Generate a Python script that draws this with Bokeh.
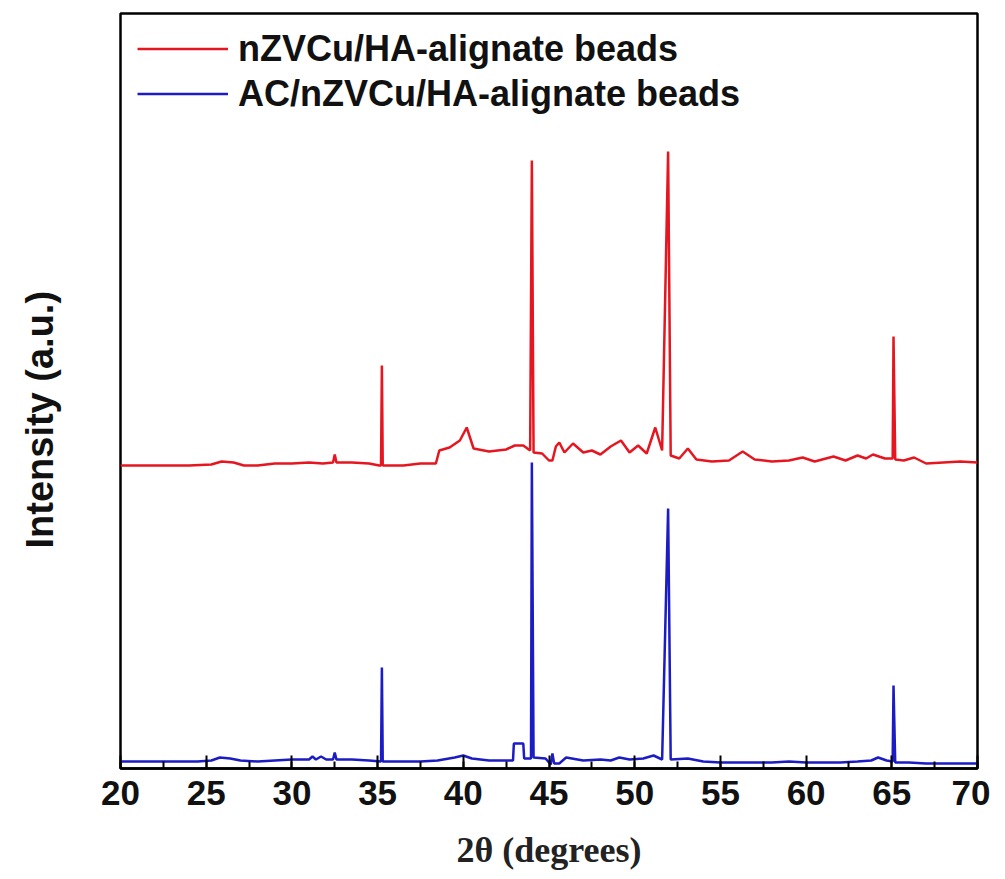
from bokeh.plotting import figure
from bokeh.models import Range1d, SingleIntervalTicker, FixedTicker, Title, Legend
from bokeh.embed import file_html
from bokeh.resources import INLINE

# 2-theta positions (degrees) and intensities (a.u.)
red_x = [20.0, 22.0, 24.0, 25.3, 25.9, 26.6, 27.2, 28.0, 29.0, 30.0, 31.0, 31.8, 32.4, 32.5, 32.6,
         33.5, 34.5, 35.1, 35.2, 35.25, 35.3, 36.5, 37.5, 38.4, 38.6, 39.2, 39.8, 40.2, 40.6, 41.5,
         42.5, 43.0, 43.5, 43.9, 44.0, 44.1, 44.6, 45.0, 45.2, 45.4, 45.6, 45.9, 46.4, 47.0, 47.5,
         48.0, 48.6, 49.2, 49.7, 50.2, 50.7, 51.2, 51.6, 51.95, 52.1, 52.6, 53.1, 53.6, 54.5, 55.5,
         56.3, 57.0, 58.0, 59.0, 59.8, 60.5, 61.6, 62.3, 63.0, 63.5, 63.9, 64.6, 65.05, 65.1, 65.2,
         65.7, 66.3, 67.0, 68.0, 69.0, 70.0]
red_y = [303, 303, 303, 304, 307, 306, 303, 303, 305, 305, 306, 305, 306, 314, 306,
         306, 305, 303, 303, 403, 303, 303, 305, 305, 318, 321, 328, 341, 320, 317,
         319, 323, 323, 318, 608, 316, 315, 308, 308, 322, 326, 316, 325, 316, 318,
         314, 322, 328, 316, 323, 315, 341, 318, 617, 313, 310, 320, 309, 307, 308,
         317, 309, 307, 308, 311, 307, 312, 308, 313, 310, 314, 310, 310, 432, 309,
         308, 311, 305, 306, 307, 306]

blue_x = [20.0, 21.5, 22.5, 23.5, 24.5, 25.3, 25.8, 26.4, 27.0, 28.0, 29.0, 30.0, 31.0, 31.2, 31.4,
          31.7, 32.0, 32.4, 32.5, 32.6, 33.5, 34.5, 35.2, 35.25, 35.3, 36.5, 37.5, 38.5, 39.5, 40.0,
          40.5, 41.5, 42.5, 42.9, 42.95, 43.5, 43.55, 43.95, 44.0, 44.1, 44.8, 45.1, 45.2, 45.3, 45.6,
          46.0, 47.0, 48.0, 48.6, 49.1, 49.7, 50.5, 51.1, 51.6, 51.95, 52.1, 53.1, 54.0, 55.0, 57.0,
          58.0, 59.0, 60.0, 61.0, 62.0, 63.0, 63.8, 64.2, 64.7, 65.05, 65.1, 65.2, 66.0, 67.0, 68.0,
          69.0, 70.0]
blue_y = [7, 7, 7, 7, 7, 8, 11, 10, 8, 7, 8, 9, 9, 12, 9,
          12, 9, 9, 16, 9, 9, 8, 7, 101, 7, 7, 7, 8, 11, 13,
          10, 8, 8, 8, 25, 25, 10, 10, 306, 11, 10, 4, 15, 5, 5,
          11, 8, 9, 8, 11, 9, 10, 13, 9, 260, 9, 10, 7, 6, 6,
          6, 7, 6, 6, 6, 7, 8, 11, 8, 7, 83, 6, 6, 5, 5,
          5, 5]

series_names = ["nZVCu/HA-alignate beads", "AC/nZVCu/HA-alignate beads"]

RED = "#e5161f"
BLUE = "#1c1cc4"

p = figure(width=990, height=879, output_backend="svg", toolbar_location=None,
           x_range=Range1d(20, 70), y_range=Range1d(0, 755))
p.min_border_left = 120
p.min_border_right = 13
p.min_border_top = 13
p.min_border_bottom = 111

p.outline_line_color = "black"
p.outline_line_width = 2.5
p.xgrid.visible = False
p.ygrid.visible = False

# left axis kept only as an empty spacer between the frame and the y title
ya = p.yaxis[0]
ya.ticker = FixedTicker(ticks=[])
ya.axis_line_alpha = 0
ya.major_tick_in = 0
ya.major_tick_out = 0
ya.minor_tick_in = 0
ya.minor_tick_out = 0
ya.axis_label = " "
ya.axis_label_text_font_size = "1px"
ya.axis_label_standoff = 56

r1 = p.line(red_x, red_y, line_color=RED, line_width=2.5)
r2 = p.line(blue_x, blue_y, line_color=BLUE, line_width=2.5)

xa = p.xaxis[0]
xa.ticker = SingleIntervalTicker(interval=5, num_minor_ticks=2)
xa.major_tick_in = 13
xa.major_tick_out = 0
xa.minor_tick_in = 7
xa.minor_tick_out = 0
xa.major_tick_line_width = 2
xa.minor_tick_line_width = 2
xa.axis_line_width = 2.5
xa.axis_line_color = "black"
xa.major_label_text_font = "Liberation Sans"
xa.major_label_text_font_style = "bold"
xa.major_label_text_font_size = "35px"
xa.major_label_text_color = "#111111"
xa.major_label_standoff = 12
xa.axis_label = "2\u03b8 (degrees)"
xa.axis_label_text_font = "Liberation Serif"
xa.axis_label_text_font_style = "bold"
xa.axis_label_text_font_size = "36px"
xa.axis_label_text_color = "#222222"
xa.axis_label_standoff = 22

ytitle = Title(text="Intensity (a.u.)", align="left", offset=220, standoff=0,
               text_font="Liberation Sans", text_font_style="bold",
               text_font_size="38px", text_color="#111111")
p.add_layout(ytitle, "left")

legend = Legend(items=[(series_names[0], [r1]), (series_names[1], [r2])],
                location=(17, 652))
legend.border_line_alpha = 0
legend.background_fill_alpha = 0
legend.padding = 0
legend.margin = 0
legend.spacing = 0
legend.glyph_width = 91
legend.glyph_height = 45
legend.label_height = 45
legend.label_standoff = 10
legend.label_text_font = "Liberation Sans"
legend.label_text_font_style = "bold"
legend.label_text_font_size = "36px"
legend.label_text_color = "#111111"
p.add_layout(legend)

open("out.html", "w").write(file_html(p, INLINE))
